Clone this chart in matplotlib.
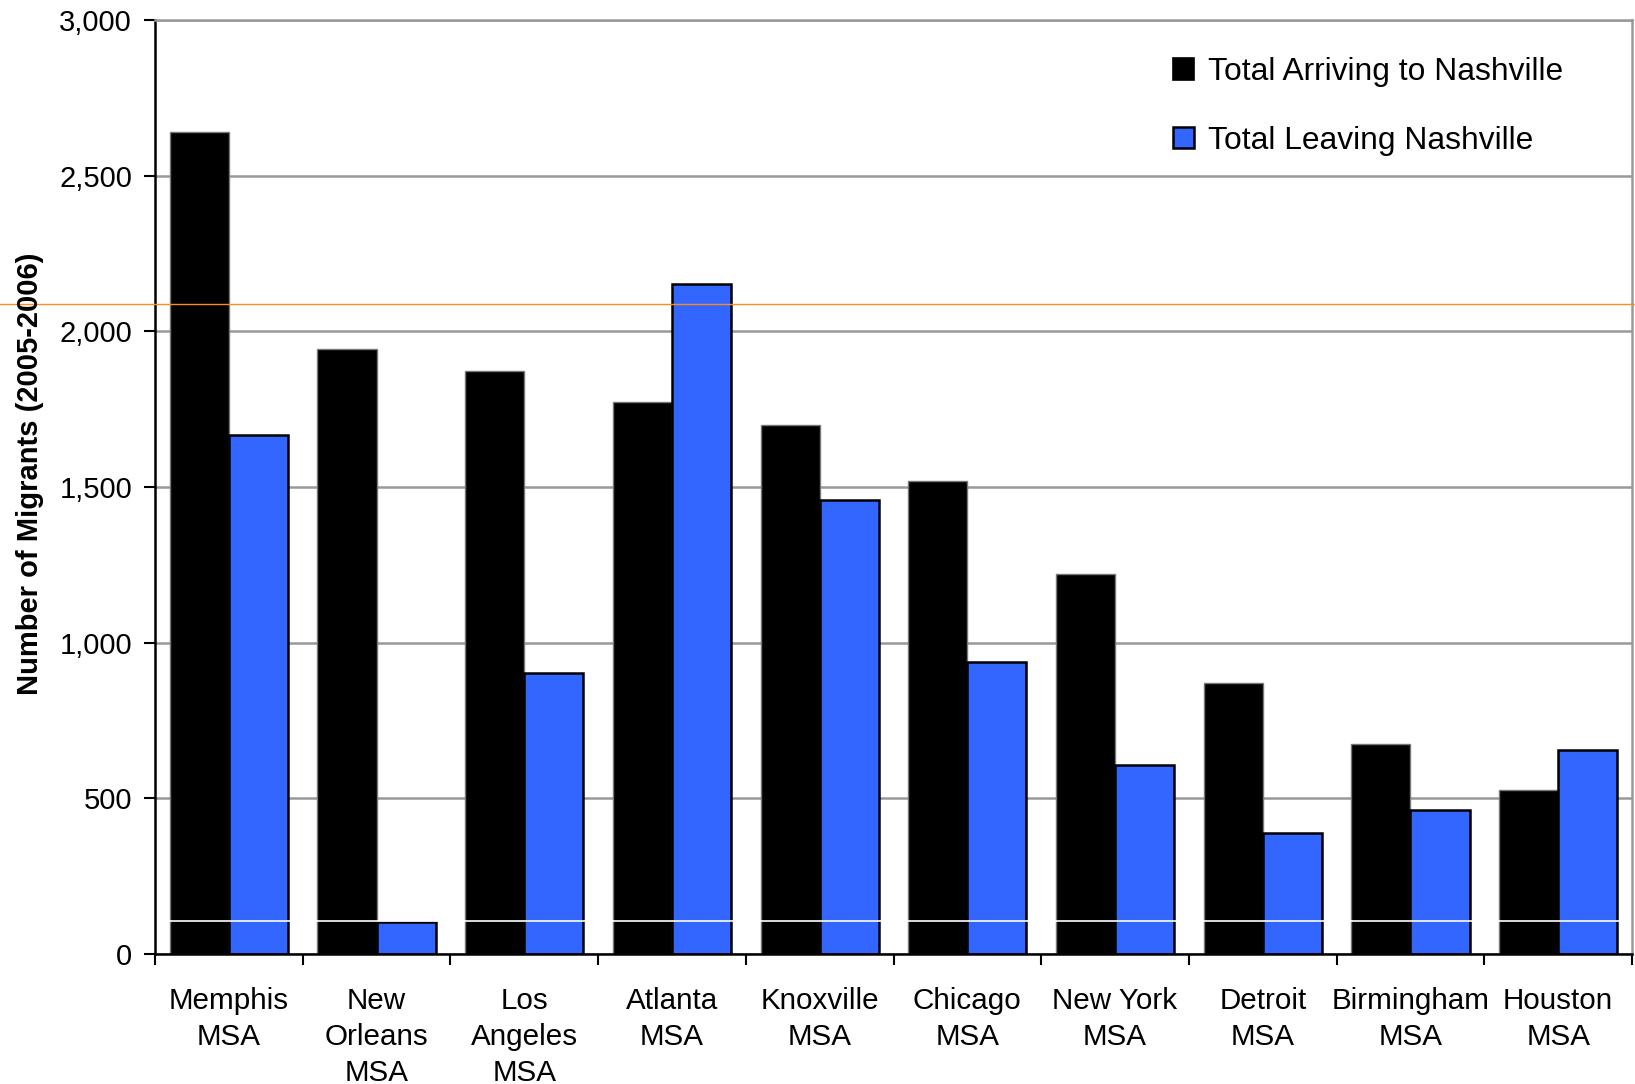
import matplotlib
matplotlib.use("Agg")
import matplotlib.pyplot as plt
import matplotlib.transforms as mtransforms
from matplotlib.patches import Patch
from matplotlib.ticker import FuncFormatter
import numpy as np

plt.rcParams['font.family'] = ['Liberation Sans', 'DejaVu Sans']

# data
cities = ["Memphis\nMSA", "New\nOrleans\nMSA", "Los\nAngeles\nMSA", "Atlanta\nMSA",
          "Knoxville\nMSA", "Chicago\nMSA", "New York\nMSA", "Detroit\nMSA",
          "Birmingham\nMSA", "Houston\nMSA"]
arriving = [2641, 1942, 1873, 1772, 1700, 1520, 1220, 869, 674, 526]
leaving = [1668, 102, 904, 2152, 1458, 938, 607, 390, 462, 655]
series_names = ["Total Arriving to Nashville", "Total Leaving Nashville"]
orange_level = 2087
white_level = 105

black = "#000000"
blue = "#3366FF"

fig = plt.figure(figsize=(16.35, 10.84), dpi=100)
ax = fig.add_axes([155/1635, 1 - 954/1084, (1632 - 155)/1635, (954 - 20)/1084])

x = np.arange(len(cities))
w = 0.4
ax.bar(x - w/2, arriving, w, color=black, edgecolor="#777777", linewidth=1.0, zorder=1)
ax.bar(x + w/2, leaving, w, color=blue, edgecolor=black, linewidth=1.8, zorder=1)

# stray white line across the bars
ax.axhline(white_level, color="white", lw=1.2, zorder=2)

ax.set_xlim(-0.5, len(cities) - 0.5)
ax.set_ylim(0, 3000)
ax.set_yticks(np.arange(0, 3001, 500))
ax.yaxis.set_major_formatter(FuncFormatter(lambda v, p: "{:,}".format(int(v))))
ax.grid(axis="y", color="#999999", lw=1.8)
ax.set_axisbelow(True)

# category boundaries get the tick marks, names sit in between
ax.set_xticks(np.arange(-0.5, len(cities), 1.0))
ax.set_xticklabels([])
ax.set_xticks(x, minor=True)
ax.set_xticklabels(cities, minor=True, fontsize=21.3, linespacing=1.36)
ax.tick_params(axis="x", which="major", direction="out", length=8, width=1.5)
ax.tick_params(axis="x", which="minor", length=0, pad=24)
ax.tick_params(axis="y", direction="out", length=8, width=1.5, labelsize=21, pad=8.5)

for side in ["left", "bottom"]:
    ax.spines[side].set_color("black")
    ax.spines[side].set_linewidth(1.8)
for side in ["top", "right"]:
    ax.spines[side].set_color("#999999")
    ax.spines[side].set_linewidth(1.8)

fig.text(30/1635, 1 - 474/1084, "Number of Migrants (2005-2006)", rotation=90,
         ha="center", va="center", fontsize=21, fontweight="bold")

# orange reference line runs across the whole figure
trans = mtransforms.blended_transform_factory(fig.transFigure, ax.transData)
ax.plot([0, 1], [orange_level, orange_level], color="#FF8C1A", lw=1.0,
        transform=trans, clip_on=False, zorder=5)

handles = [Patch(facecolor=black, edgecolor=black, lw=1.2),
           Patch(facecolor=blue, edgecolor=black, lw=1.8)]
ax.legend(handles, series_names, loc="upper left",
          bbox_to_anchor=(1173/1635, 1 - 57/1084), bbox_transform=fig.transFigure,
          frameon=False, fontsize=22.9, handlelength=0.67, handleheight=0.67,
          handletextpad=0.42, labelspacing=1.22, borderpad=0, borderaxespad=0)

fig.savefig("out.png", dpi=100)
